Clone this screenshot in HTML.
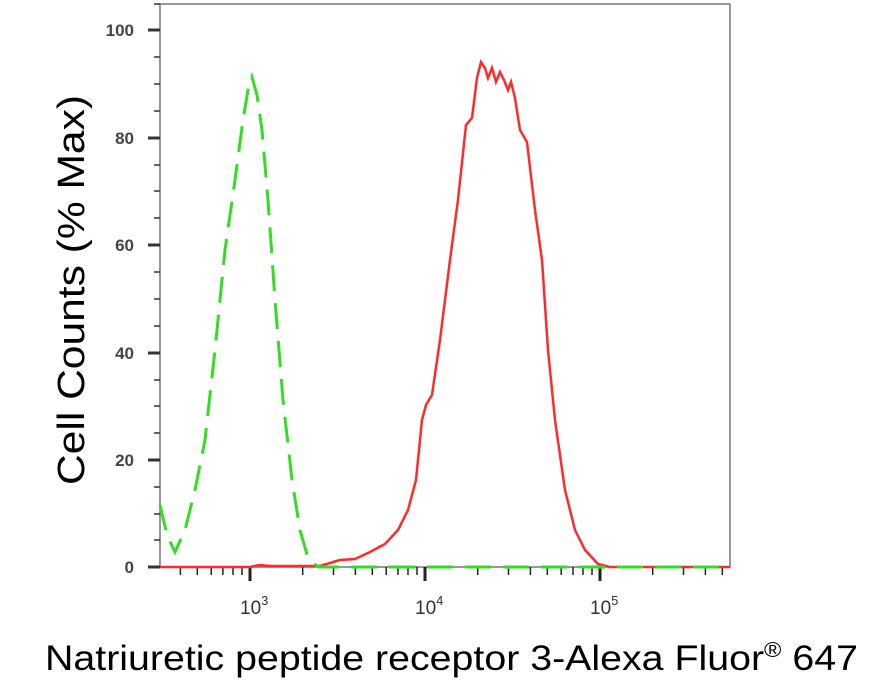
<!DOCTYPE html>
<html><head><meta charset="utf-8"><style>
body{margin:0;background:#fff;}
svg{display:block;font-family:"Liberation Sans",Arial,sans-serif;}
</style></head><body>
<svg width="885" height="682" viewBox="0 0 885 682">
<rect x="160" y="4" width="570" height="563" fill="none" stroke="#777" stroke-width="1.5"/>
<g stroke="#333" stroke-width="1.5">
<line x1="148" y1="30" x2="160" y2="30" stroke-width="3"/>
<line x1="148" y1="138" x2="160" y2="138" stroke-width="3"/>
<line x1="148" y1="245" x2="160" y2="245" stroke-width="3"/>
<line x1="148" y1="353" x2="160" y2="353" stroke-width="3"/>
<line x1="148" y1="460" x2="160" y2="460" stroke-width="3"/>
<line x1="148" y1="567" x2="160" y2="567" stroke-width="3"/>
<line x1="154" y1="4" x2="160" y2="4"/>
<line x1="154" y1="57" x2="160" y2="57"/><line x1="154" y1="84" x2="160" y2="84"/><line x1="154" y1="111" x2="160" y2="111"/>
<line x1="154" y1="165" x2="160" y2="165"/><line x1="154" y1="191" x2="160" y2="191"/><line x1="154" y1="218" x2="160" y2="218"/>
<line x1="154" y1="272" x2="160" y2="272"/><line x1="154" y1="299" x2="160" y2="299"/><line x1="154" y1="326" x2="160" y2="326"/>
<line x1="154" y1="380" x2="160" y2="380"/><line x1="154" y1="406" x2="160" y2="406"/><line x1="154" y1="433" x2="160" y2="433"/>
<line x1="154" y1="487" x2="160" y2="487"/><line x1="154" y1="514" x2="160" y2="514"/><line x1="154" y1="540" x2="160" y2="540"/>
</g>
<g fill="#444" font-size="17" font-weight="bold" text-anchor="end">
<text x="134" y="36">100</text><text x="134" y="144">80</text><text x="134" y="251">60</text>
<text x="134" y="359">40</text><text x="134" y="466">20</text><text x="134" y="573">0</text>
</g>
<g stroke="#222" stroke-width="1.5">
<line x1="180.4" y1="567" x2="180.4" y2="575"/><line x1="197.3" y1="567" x2="197.3" y2="575"/><line x1="211.2" y1="567" x2="211.2" y2="575"/><line x1="222.9" y1="567" x2="222.9" y2="575"/><line x1="233" y1="567" x2="233" y2="575"/><line x1="242" y1="567" x2="242" y2="575"/>
<line x1="250" y1="567" x2="250" y2="581" stroke-width="3"/>
<line x1="302.7" y1="567" x2="302.7" y2="575"/><line x1="333.5" y1="567" x2="333.5" y2="575"/><line x1="355.4" y1="567" x2="355.4" y2="575"/><line x1="372.3" y1="567" x2="372.3" y2="575"/><line x1="386.2" y1="567" x2="386.2" y2="575"/><line x1="398" y1="567" x2="398" y2="575"/><line x1="408" y1="567" x2="408" y2="575"/><line x1="417" y1="567" x2="417" y2="575"/>
<line x1="425" y1="567" x2="425" y2="581" stroke-width="3"/>
<line x1="477.7" y1="567" x2="477.7" y2="575"/><line x1="508.5" y1="567" x2="508.5" y2="575"/><line x1="530.4" y1="567" x2="530.4" y2="575"/><line x1="547.3" y1="567" x2="547.3" y2="575"/><line x1="561.2" y1="567" x2="561.2" y2="575"/><line x1="573" y1="567" x2="573" y2="575"/><line x1="583" y1="567" x2="583" y2="575"/><line x1="592" y1="567" x2="592" y2="575"/>
<line x1="600" y1="567" x2="600" y2="581" stroke-width="3"/>
<line x1="652.7" y1="567" x2="652.7" y2="575"/><line x1="683.5" y1="567" x2="683.5" y2="575"/><line x1="705.4" y1="567" x2="705.4" y2="575"/><line x1="722.3" y1="567" x2="722.3" y2="575"/>
</g>
<g fill="#333" font-size="19">
<text x="240" y="614">10<tspan dy="-9" font-size="13">3</tspan></text>
<text x="415" y="614">10<tspan dy="-9" font-size="13">4</tspan></text>
<text x="590" y="614">10<tspan dy="-9" font-size="13">5</tspan></text>
</g>
<polyline fill="none" stroke="#ff2a2a" stroke-width="2.5" points="160,567 250,567 260,565 270,566 300,566 320,566 330,563 340,560 355,559 370,552 385,544 398,530 408,510 416,480 422,420 426,405 432,395 440,340 450,260 458,200 466,125 472,118 477,78 481,62 485,68 488,78 492,68 496,82 500,72 504,80 508,90 511,82 515,98 520,130 527,142 535,210 542,260 548,350 555,420 565,490 575,530 585,550 598,564 610,567 730,567"/>
<polyline fill="none" stroke="#33dd22" stroke-width="3" stroke-dasharray="26,12" points="160,505 167,535 175,552 185,530 195,490 205,440 215,350 225,250 235,180 243,120 248,90 252,77 257,95 262,130 268,200 275,300 283,400 292,480 300,530 308,558 318,567 730,567"/>
<text transform="translate(84,290) rotate(-90)" text-anchor="middle" font-size="38" fill="#000" textLength="390" lengthAdjust="spacingAndGlyphs">Cell Counts (% Max)</text>
<text x="45" y="670" font-size="35" fill="#000" textLength="813" lengthAdjust="spacingAndGlyphs">Natriuretic peptide receptor 3-Alexa Fluor<tspan dy="-13" font-size="21">®</tspan><tspan dy="13"> 647</tspan></text>
</svg>
</body></html>
